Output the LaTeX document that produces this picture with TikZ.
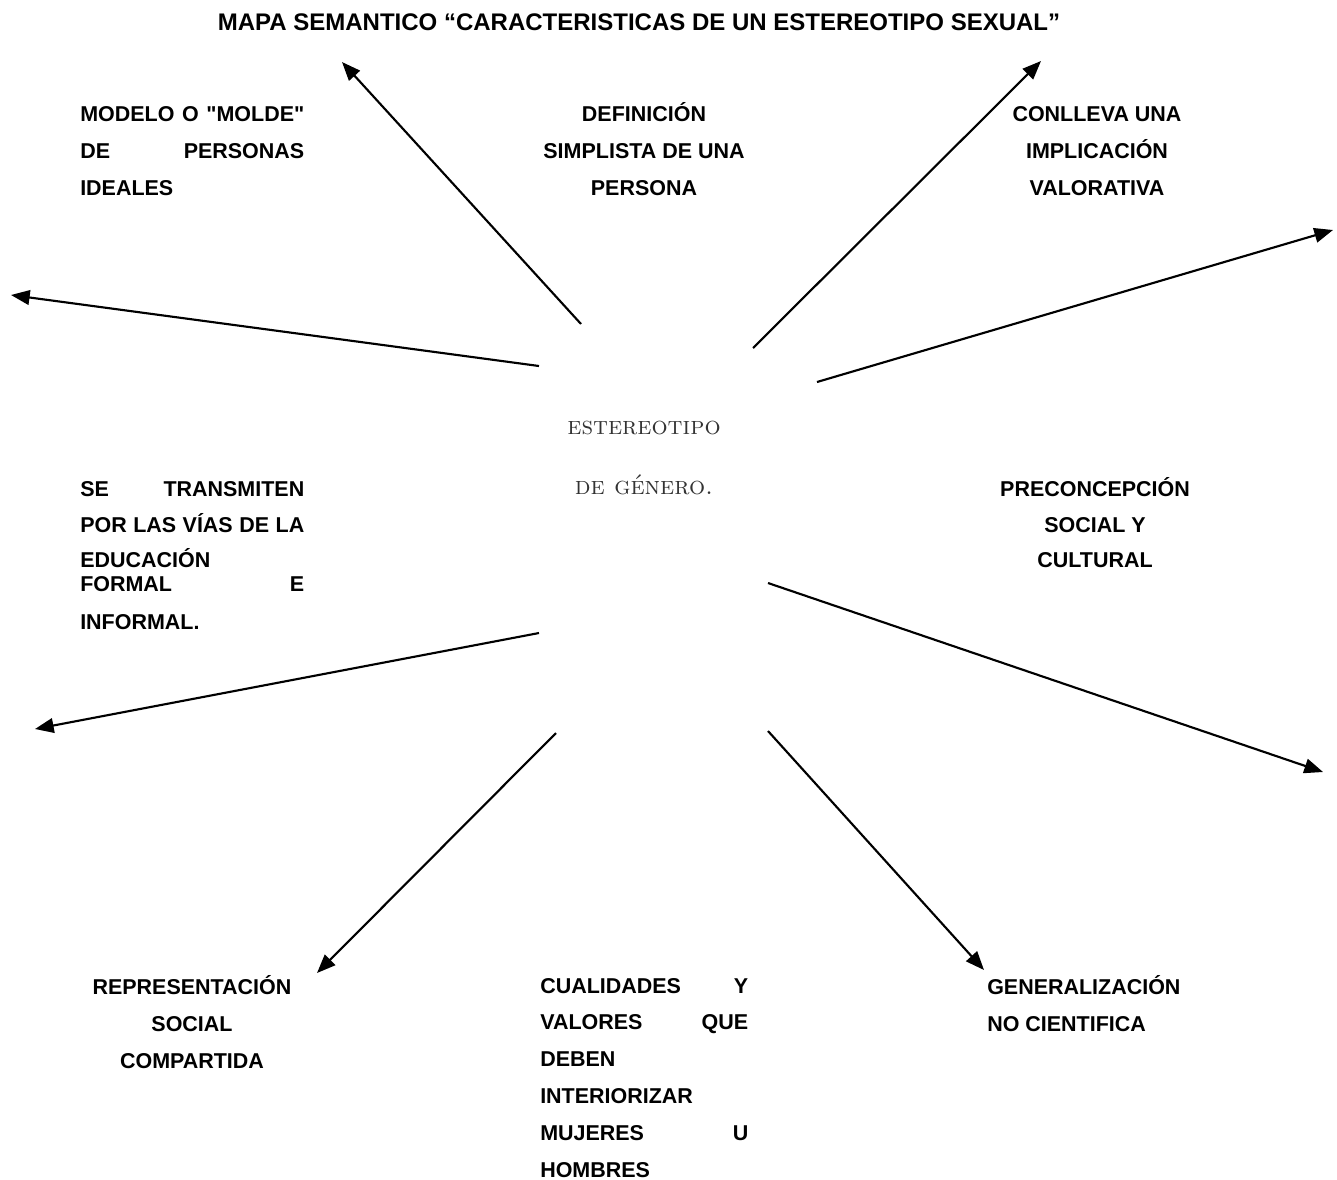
\documentclass[tikz,border=0pt]{standalone}
\usepackage{fontspec}
\newfontfamily\arialf{Liberation Sans}
\usetikzlibrary{arrows.meta}
\definecolor{ctrgray}{HTML}{333333}
\newcommand\labtab[2]{\begin{tabular}[t]{@{}#1@{}}#2\end{tabular}}
\newcommand\js[2]{\makebox[#1][s]{#2}}
\begin{document}
\begin{tikzpicture}[x=0.75pt,y=-0.75pt,
  lab/.style={font=\arialf\bfseries\fontsize{16.1}{27.8}\selectfont, inner sep=0pt},
  conn/.style={line width=1.6pt, -{Triangle[length=14pt,width=11pt]}}]
\useasboundingbox (0,0) rectangle (1337,1179);
\fill[white] (0,0) rectangle (1337,1179);

\node[font=\arialf\bfseries\fontsize{18}{20}\selectfont, anchor=base, inner sep=0pt] (title) at (639,30)
  {MAPA SEMANTICO “CARACTERISTICAS DE UN ESTEREOTIPO SEXUAL”};

\node[font=\fontsize{19}{45}\selectfont\scshape, text=ctrgray, anchor=base, inner sep=0pt] (centro) at (644,434)
  {\labtab{c}{estereotipo\\ de género.}};

\node[lab, anchor=base west] (modelo) at (80,121)
  {\labtab{l}{\js{168pt}{MODELO O "MOLDE"}\\ \js{168pt}{DE PERSONAS}\\ IDEALES}};
\node[lab, anchor=base] (definicion) at (644,121)
  {\labtab{c}{DEFINICIÓN\\ SIMPLISTA DE UNA\\ PERSONA}};
\node[lab, anchor=base] (conlleva) at (1097,121)
  {\labtab{c}{CONLLEVA UNA\\ IMPLICACIÓN\\ VALORATIVA}};
\node[lab, anchor=base west] (transmiten) at (80,496)
  {\labtab{l}{\js{168pt}{SE TRANSMITEN}\\[-0.8pt] \js{168pt}{POR LAS VÍAS DE LA}\\[-1.5pt] EDUCACIÓN\\[-9.8pt] \js{168pt}{FORMAL E}\\[0.7pt] INFORMAL.}};
\node[lab, anchor=base] (preconcepcion) at (1095,496)
  {\labtab{c}{PRECONCEPCIÓN\\[-0.8pt] SOCIAL Y\\[-1.5pt] CULTURAL}};
\node[lab, anchor=base] (representacion) at (192,994)
  {\labtab{c}{REPRESENTACIÓN\\ SOCIAL\\ COMPARTIDA}};
\node[lab, anchor=base west] (cualidades) at (540,993)
  {\labtab{l}{\js{156pt}{CUALIDADES Y}\\[-0.2pt] \js{156pt}{VALORES QUE}\\[-0.2pt] DEBEN\\[-0.2pt] INTERIORIZAR\\[-0.2pt] \js{156pt}{MUJERES U}\\[-0.2pt] HOMBRES}};
\node[lab, anchor=base west] (generalizacion) at (987,994)
  {\labtab{l}{GENERALIZACIÓN\\ NO CIENTIFICA}};

\coordinate (s1) at (581,324); \coordinate (t1) at (342,62);
\coordinate (s2) at (753,348); \coordinate (t2) at (1041,61);
\coordinate (s3) at (817,382); \coordinate (t3) at (1333,230);
\coordinate (s4) at (539,366); \coordinate (t4) at (11,295);
\coordinate (s5) at (768,583); \coordinate (t5) at (1323,772);
\coordinate (s6) at (539,633); \coordinate (t6) at (35,729);
\coordinate (s7) at (556,733); \coordinate (t7) at (317,973);
\coordinate (s8) at (768,731); \coordinate (t8) at (984,970);

\foreach \i in {1,...,8} \draw[conn] (s\i) -- (t\i);
\end{tikzpicture}
\end{document}
